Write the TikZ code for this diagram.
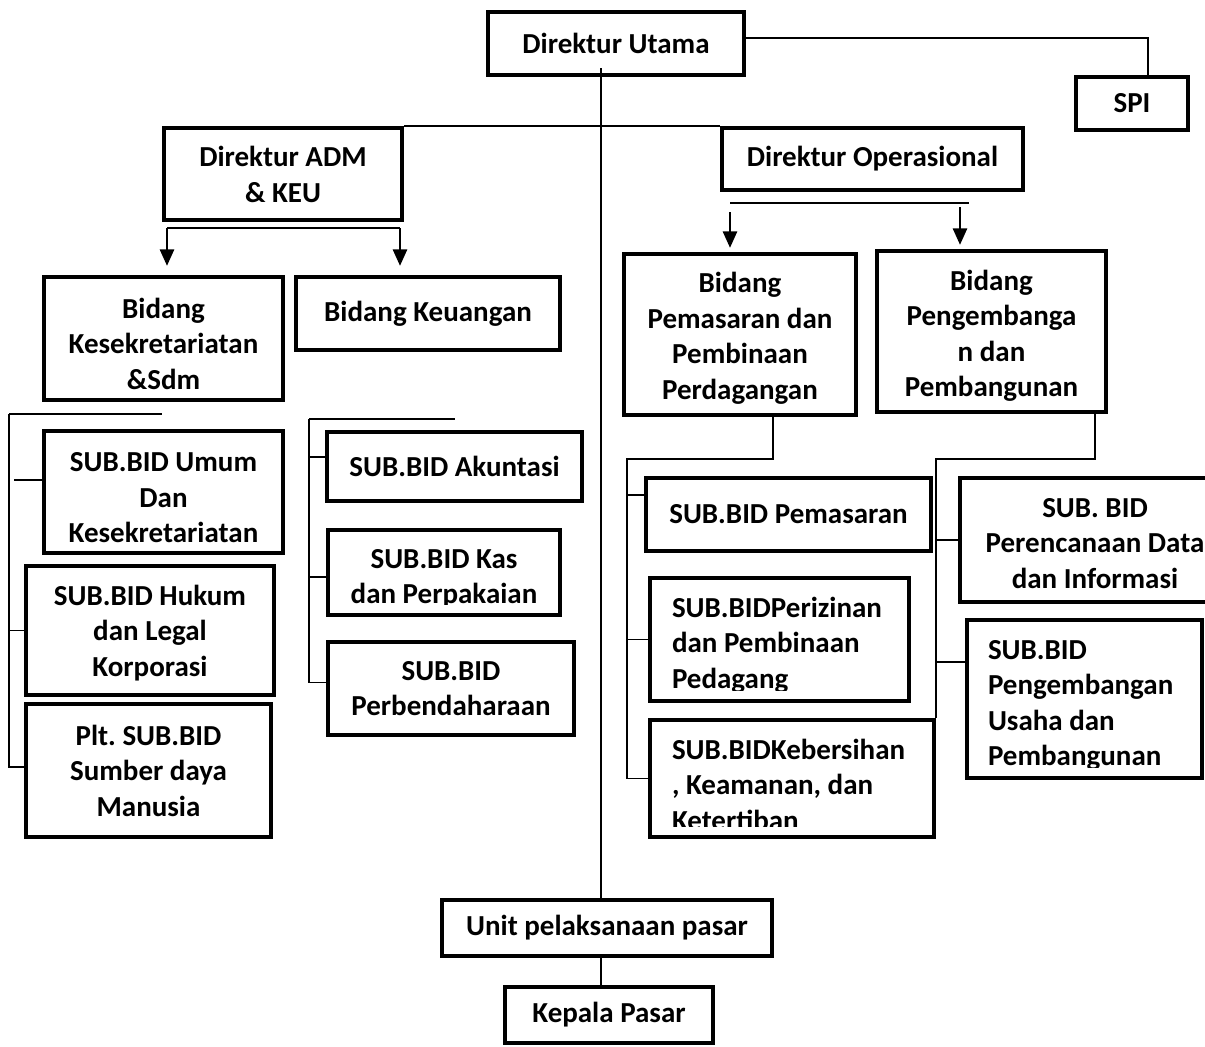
\documentclass[tikz,border=0pt]{standalone}
\usepackage{fontspec}
\setmainfont{Carlito}
\usetikzlibrary{arrows.meta}

\tikzset{
  unit/.style={draw, line width=4.5pt, align=flush center, inner sep=4pt,
    font=\frenchspacing\bfseries\fontsize{29}{35.5}\selectfont},
  unitleft/.style={unit, align=flush left},
  textdrop/.style={text height=20pt, text depth=#1},
  conn/.style={line width=1.5pt},
  arr/.style={conn, -{Triangle[width=14.5pt,length=16.5pt]}}
}

\begin{document}
\begin{tikzpicture}[x=1pt, y=-1pt]
        \useasboundingbox (0,0) rectangle (1205,1047);
        % Direksi
        \node [unit, minimum width=256, minimum height=63] (du) at (616,43.5) {Direktur Utama};
        \node [unit, minimum width=112, minimum height=53] (spi) at (1132,103.5) {SPI};
        \node [unit, textdrop=34.5pt, text width=230, minimum height=92] (adm) at (283,174) {Direktur ADM\\\& KEU};
        \node [unit, minimum width=301, minimum height=62] (ops) at (872.5,159) {Direktur Operasional};
        % Bidang
        \node [unit, textdrop=61pt, text width=231, minimum height=123] (bsdm) at (163.5,338.5) {Bidang\\Kesekretariatan\\\&Sdm};
        \node [unit, minimum width=264, minimum height=73] (bkeu) at (428,313.5) {Bidang Keuangan};
        \node [unit, textdrop=104pt, text width=224, minimum height=161] (bpem) at (740,334.5) {Bidang\\Pemasaran dan\\Pembinaan\\Perdagangan};
        \node [unit, textdrop=103pt, text width=221, minimum height=161] (bpeng) at (991.5,331.5) {Bidang\\Pengembanga\\n dan\\Pembangunan};
        % Sub bidang
        \node [unit, textdrop=60.5pt, text width=231, minimum height=122] (sumum) at (163.5,492) {SUB.BID Umum\\Dan\\Kesekretariatan};
        \node [unit, textdrop=71pt, text width=240, minimum height=129] (shukum) at (150,630.5) {SUB.BID Hukum\\dan Legal\\Korporasi};
        \node [unit, textdrop=71pt, text width=237, minimum height=133] (ssdm) at (148.5,770.5) {Plt. SUB.BID\\Sumber daya\\Manusia};
        \node [unit, minimum width=255, minimum height=69] (sakun) at (454.5,466.5) {SUB.BID Akuntasi};
        \node [unit, textdrop=29pt, text width=224, minimum height=85] (skas) at (444,572.5) {SUB.BID Kas\\dan Perpakaian};
        \node [unit, textdrop=37pt, text width=238, minimum height=93] (sperb) at (451,688.5) {SUB.BID\\Perbendaharaan};
        \node [unit, minimum width=285, minimum height=73] (spemas) at (788.5,514.5) {SUB.BID Pemasaran};
        \node [unitleft, textdrop=65pt, text width=215, inner xsep=22, minimum height=123] (sizin) at (779.5,639.5) {SUB.BIDPerizinan\\dan Pembinaan\\Pedagang};
        \node [unitleft, textdrop=59pt, text width=240, inner xsep=22, minimum height=117] (sbersih) at (792,778.5) {SUB.BIDKebersihan\\, Keamanan, dan\\Ketertiban};
        \node [unit, textdrop=66pt, text width=262, minimum height=124] (sdata) at (1095,540) {SUB. BID\\Perencanaan Data\\dan Informasi};
        \node [unitleft, textdrop=100pt, text width=193, inner xsep=21, minimum height=158] (susaha) at (1084.5,699) {SUB.BID\\Pengembangan\\Usaha dan\\Pembangunan};
        % Pasar
        \node [unit, minimum width=330, minimum height=56] (upasar) at (607,928) {Unit pelaksanaan pasar};
        \node [unit, minimum width=208, minimum height=56] (kpasar) at (609,1015) {Kepala Pasar};
        % Text cut off at the bottom of some boxes
        \foreach \n in {skas, sizin, sbersih, susaha}
            \fill [white] ([shift={(4.6pt,4.6pt)}]\n.south west) rectangle ([shift={(-4.6pt,12.5pt)}]\n.south east);
        % Lines
        \coordinate (dutop) at (601,68);
        \draw [conn] (dutop) -- (dutop |- upasar.north);
        \draw [conn] (dutop |- upasar.south) -- (dutop |- kpasar.north);
        \draw [conn] ([yshift=5.5pt]du.east) -| ([xshift=16pt]spi.north);
        \draw [conn] (adm.north east) -- (ops.north west);
        % Arrows under the directors
        \coordinate (admL) at (167,228);
        \coordinate (admR) at (400,228);
        \draw [conn] (admL) -- (admR);
        \draw [arr] (admL) -- ([yshift=9pt]admL |- bsdm.north);
        \draw [arr] (admR) -- ([yshift=9pt]admR |- bkeu.north);
        \coordinate (opsL) at (730,203);
        \coordinate (opsR) at (960,203);
        \draw [conn] (opsL) -- ([xshift=9pt]opsR);
        \draw [arr] ([yshift=-9pt]opsL) -- ([yshift=4pt]opsL |- bpem.north);
        \draw [arr] ([yshift=-4pt]opsR) -- ([yshift=4pt]opsR |- bpeng.north);
        % Brackets to the sub bidang
        \coordinate (lbr) at (9,414);
        \draw [conn] (lbr) -- ++(153,0);
        \draw [conn] (lbr) -- ++(0,353) coordinate (lbrend) -- (lbrend -| ssdm.west);
        \draw [conn] ([yshift=12pt]sumum.west) -- ++(-28,0);
        \draw [conn] (shukum.west) -- (shukum.west -| lbr);
        \coordinate (mbr) at (309,419);
        \draw [conn] (mbr) -- ++(146,0);
        \draw [conn] (mbr) -- ([yshift=6pt]mbr |- sperb.west) -- ([yshift=6pt]sperb.west);
        \draw [conn] ([yshift=9.5pt]sakun.west) -- ([yshift=9.5pt]sakun.west -| mbr);
        \draw [conn] ([yshift=-4.5pt]skas.west) -- ([yshift=-4.5pt]skas.west -| mbr);
        \coordinate (pembr) at (627,459);
        \draw [conn] ([xshift=33pt]bpem.south) |- (pembr) -- (pembr |- sbersih.west) -- (sbersih.west);
        \draw [conn] ([yshift=19.5pt]spemas.west) -- ([yshift=19.5pt]spemas.west -| pembr);
        \draw [conn] (sizin.west) -- (sizin.west -| pembr);
        \coordinate (pengbr) at (936,459);
        \draw [conn] ([xshift=103.5pt]bpeng.south) |- (pengbr) -- (pengbr |- sbersih.north);
        \draw [conn] (sdata.west) -- (sdata.west -| pengbr);
        \draw [conn] ([yshift=37pt]susaha.west) -- ([yshift=37pt]susaha.west -| pengbr);
\end{tikzpicture}
\end{document}
